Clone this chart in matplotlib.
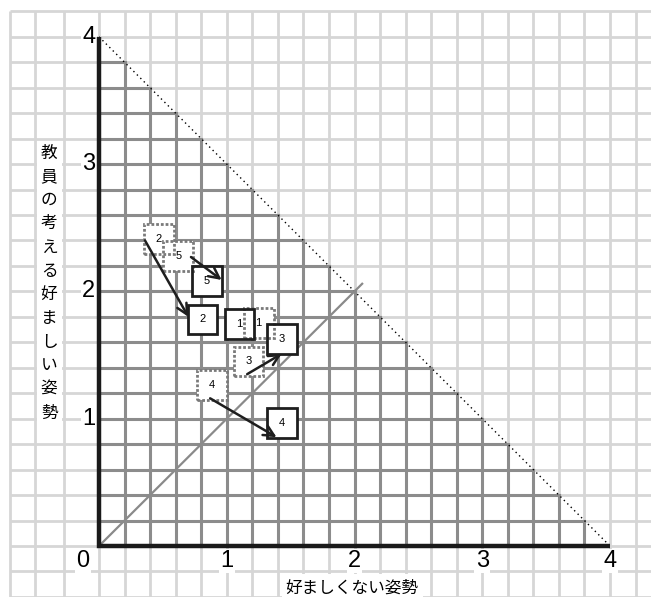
import numpy as np
import matplotlib.pyplot as plt
from matplotlib.patches import Rectangle, FancyArrowPatch

# group ids with their position before (dotted box) and after (solid box)
groups = ['1', '2', '3', '4', '5']
before_x = [1.25, 0.47, 1.17, 0.885, 0.62]
before_y = [1.75, 2.41, 1.45, 1.265, 2.28]
after_x = [1.10, 0.81, 1.43, 1.43, 0.845]
after_y = [1.745, 1.78, 1.625, 0.965, 2.08]

# shift arrows (group 1 barely moves, no arrow)
arrow_x0 = [0.36, 1.16, 0.87, 0.72]
arrow_y0 = [2.40, 1.35, 1.16, 2.27]
arrow_x1 = [0.70, 1.43, 1.39, 0.96]
arrow_y1 = [1.80, 1.51, 0.855, 2.09]

ticks = [0, 1, 2, 3, 4]
xlabel = '好ましくない姿勢'
ylabel = '教員の考える好ましい姿勢'

cjk = ['Noto Sans CJK JP', 'DejaVu Sans']
narrow = ['Liberation Sans Narrow', 'Liberation Sans', 'DejaVu Sans']

ux, uy = 127.75, 127.3  # pixels per unit
fig = plt.figure(figsize=(6.51, 5.97), dpi=100)
ax = fig.add_axes([0, 0, 1, 1])
ax.set_xlim(-99 / ux, 552 / ux)
ax.set_ylim(-51 / uy, 546 / uy)
ax.axis('off')

# light background grid over the whole sheet
gx = list(np.round(np.arange(0, 4.21, 0.2), 2)) + [-0.70, -0.50, -0.274]
gy = np.round(np.arange(-0.4, 4.21, 0.2), 2)
ax.vlines(gx, -0.45, 4.2, color='#d6d6d6', lw=2.0, zorder=1)
ax.hlines(gy, -0.70, 4.5, color='#d6d6d6', lw=2.0, zorder=1)

# blank strips behind the axis titles
ax.add_patch(Rectangle((-0.485, 0.81), 0.195, 2.37, facecolor='white', edgecolor='none', zorder=1.5))
ax.add_patch(Rectangle((1.43, -0.45), 1.11, 0.23, facecolor='white', edgecolor='none', zorder=1.5))

# darker grid inside the triangle x + y <= 4
for v in np.round(np.arange(0.2, 3.9, 0.2), 2):
    ax.plot([v, v], [0, 4 - v], color='#8c8c8c', lw=2.2, zorder=2)
    ax.plot([0, 4 - v], [v, v], color='#8c8c8c', lw=2.2, zorder=2)

ax.plot([0, 4], [4, 0], color='k', lw=1.0, ls=(0, (1, 2.5)), zorder=3)
ax.plot([0, 2.06], [0, 2.06], color='#8a8a8a', lw=1.6, zorder=3)
ax.plot([0, 0, 4], [4, 0, 0], color='#1a1a1a', lw=3.2, solid_joinstyle='miter',
        solid_capstyle='butt', zorder=3.5)

# boxes
h = 0.117
for xs, ys, ls, ec in [(before_x, before_y, (0, (1, 0.7)), '#7a7a7a'),
                       (after_x, after_y, '-', '#1e1e1e')]:
    for g, x, y in zip(groups, xs, ys):
        ax.add_patch(Rectangle((x - h, y - h), 2 * h, 2 * h, facecolor='white',
                               edgecolor='none', zorder=4))
        ax.add_patch(Rectangle((x - h, y - h), 2 * h, 2 * h, fill=False,
                               edgecolor=ec, lw=2.0, ls=ls, zorder=5))
        ax.text(x, y, g, ha='center', va='center', fontsize=8,
                family=['Liberation Sans', 'DejaVu Sans'], zorder=6)

for x0, y0, x1, y1 in zip(arrow_x0, arrow_y0, arrow_x1, arrow_y1):
    ax.add_patch(FancyArrowPatch((x0, y0), (x1, y1),
                                 arrowstyle='->,head_length=0.5,head_width=0.25',
                                 mutation_scale=15, lw=1.8, color='#1e1e1e',
                                 shrinkA=0, shrinkB=0, zorder=7))

# tick labels
bb = dict(facecolor='white', edgecolor='none', pad=1)
for t in ticks:
    tx = -0.125 if t == 0 else t
    ax.text(tx, -0.118, str(t), ha='center', va='center', fontsize=17,
            family=narrow, bbox=bb, zorder=3)
    if t > 0:
        ax.text(-0.03, t, str(t), ha='right', va='center', fontsize=17,
                family=narrow, bbox=bb, zorder=3)

ax.text(1.98, -0.33, xlabel, ha='center', va='center', fontsize=12, family=cjk)
for ch, y in zip(ylabel, np.linspace(3.087, 1.045, len(ylabel))):
    ax.text(-0.391, y, ch, ha='center', va='center', fontsize=12, family=cjk)

fig.savefig('out.png', dpi=100)
